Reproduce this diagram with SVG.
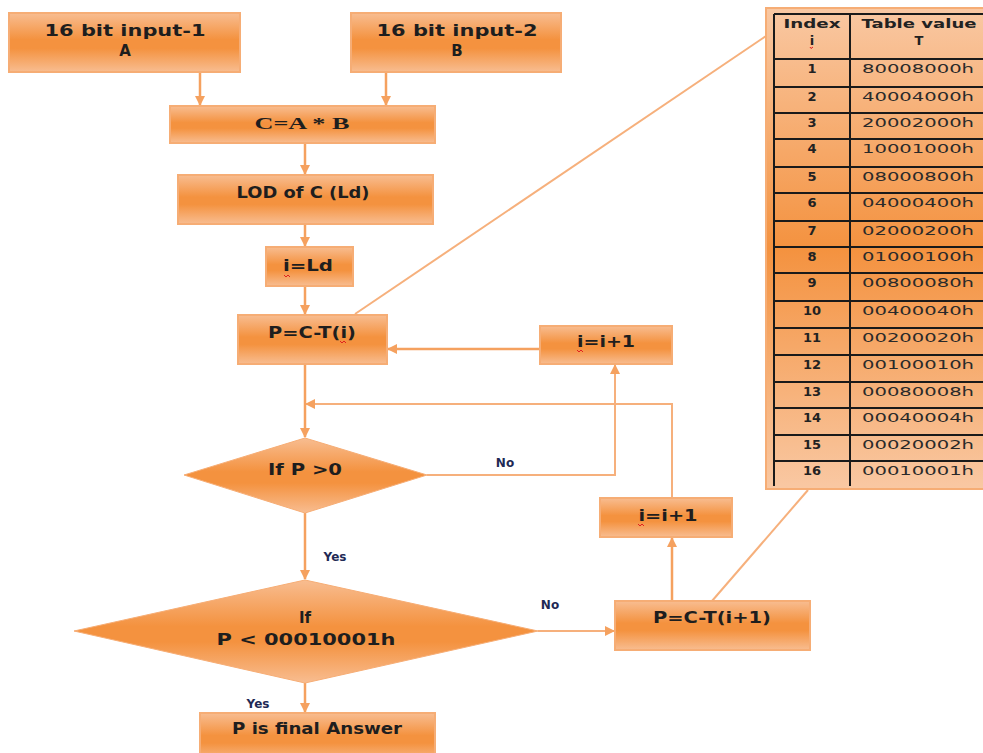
<svg xmlns="http://www.w3.org/2000/svg" width="983" height="753" viewBox="0 0 983 753">
<defs>
<linearGradient id="g" x1="0" y1="0" x2="0" y2="1">
<stop offset="0" stop-color="#f8bd91"/>
<stop offset="0.45" stop-color="#f4923f"/>
<stop offset="0.6" stop-color="#f4923f"/>
<stop offset="1" stop-color="#f8bd91"/>
</linearGradient>
<linearGradient id="gt" x1="0" y1="0" x2="0" y2="1">
<stop offset="0" stop-color="#f9c8a3"/>
<stop offset="0.5" stop-color="#f4923f"/>
<stop offset="1" stop-color="#f9c8a3"/>
</linearGradient>
<marker id="ah" viewBox="0 0 10 10" refX="9" refY="5" markerWidth="11" markerHeight="10" markerUnits="userSpaceOnUse" orient="auto">
<path d="M0,0 L10,5 L0,10 z" fill="#f5a15f"/>
</marker>
<style>
.box{fill:url(#g);stroke:#f6ad75;stroke-width:2}
.t{font-family:"DejaVu Sans",Verdana,sans-serif;font-weight:bold;font-size:15px;fill:#1e1e1e;text-anchor:middle}
.s{font-family:"DejaVu Sans",Verdana,sans-serif;font-weight:bold;font-size:12px;fill:#1f2a55}
.c{fill:none;stroke:#f5a15f;stroke-width:2.5}
.cl{fill:none;stroke:#f6b07c;stroke-width:2}
.grid{stroke:#1a1a1a;stroke-width:2}
.ti{font-family:"DejaVu Sans",Verdana,sans-serif;font-weight:bold;font-size:13px;fill:#222;text-anchor:middle}
.tv{font-family:"DejaVu Sans",Verdana,sans-serif;font-size:13px;fill:#2a2a2a}
.sq{fill:none;stroke:#e02020;stroke-width:1}
</style>
</defs>

<g id="connectors">
<path class="c" d="M200,72 V105" marker-end="url(#ah)"/>
<path class="c" d="M386,72 V105" marker-end="url(#ah)"/>
<path class="c" d="M305,143 V174" marker-end="url(#ah)"/>
<path class="c" d="M305,224 V246" marker-end="url(#ah)"/>
<path class="c" d="M305,286 V314" marker-end="url(#ah)"/>
<path class="c" d="M540,349 H388" marker-end="url(#ah)"/>
<path class="c" d="M305,364 V437" marker-end="url(#ah)"/>
<path class="cl" d="M672,498 V404 H306" marker-end="url(#ah)"/>
<path class="cl" d="M427,475 H615 V365" marker-end="url(#ah)"/>
<path class="c" d="M305,513 V579" marker-end="url(#ah)"/>
<path class="cl" d="M538,631 H614" marker-end="url(#ah)"/>
<path class="c" d="M672,601 V538" marker-end="url(#ah)"/>
<path class="c" d="M305,683 V712" marker-end="url(#ah)"/>
<path class="cl" d="M355,314 L766,36"/>
<path class="cl" d="M712,601 L808,490"/>
<text class="s" x="505" y="467" text-anchor="middle">No</text>
<text class="s" x="335" y="561" text-anchor="middle">Yes</text>
<text class="s" x="550" y="609" text-anchor="middle">No</text>
<text class="s" x="258" y="708" text-anchor="middle">Yes</text>
</g>

<g id="inputA">
<rect class="box" x="9" y="13" width="231" height="59"/>
<text class="t" x="125" y="36" textLength="161" lengthAdjust="spacingAndGlyphs">16 bit input-1</text>
<text class="t" x="125" y="56">A</text>
</g>
<g id="inputB">
<rect class="box" x="351" y="13" width="210" height="59"/>
<text class="t" x="457" y="36" textLength="161" lengthAdjust="spacingAndGlyphs">16 bit input-2</text>
<text class="t" x="457" y="56">B</text>
</g>
<g id="mult">
<rect class="box" x="170" y="106" width="265" height="37"/>
<text x="302" y="129" text-anchor="middle" font-family="Liberation Serif, serif" font-weight="bold" font-size="17" fill="#1e1e1e" textLength="95" lengthAdjust="spacingAndGlyphs">C=A * B</text>
</g>
<g id="lod">
<rect class="box" x="178" y="175" width="255" height="49"/>
<text class="t" x="303" y="198" font-size="14" textLength="133" lengthAdjust="spacingAndGlyphs">LOD of  C (Ld)</text>
</g>
<g id="iLd">
<rect class="box" x="266" y="247" width="87" height="39"/>
<text class="t" x="308" y="271" textLength="50" lengthAdjust="spacingAndGlyphs">i=Ld</text>
<path class="sq" d="M284,275 l2,2 l2,-2 l2,2"/>
</g>
<g id="pcti">
<rect class="box" x="238" y="315" width="149" height="49"/>
<text class="t" x="312" y="338" textLength="88" lengthAdjust="spacingAndGlyphs">P=C-T(i)</text>
<path class="sq" d="M340,341 l2,2 l2,-2 l2,2"/>
</g>
<g id="inc1">
<rect class="box" x="540" y="326" width="132" height="38"/>
<text class="t" x="606" y="347" textLength="58" lengthAdjust="spacingAndGlyphs">i=i+1</text>
<path class="sq" d="M577,350 l2,2 l2,-2 l2,2"/>
</g>
<g id="dec1">
<polygon points="305,438 427,475 305,513 184,475" fill="url(#g)" stroke="#f6ad75" stroke-width="1"/>
<text class="t" x="305" y="475" textLength="74" lengthAdjust="spacingAndGlyphs">If  P &gt;0</text>
</g>
<g id="inc2">
<rect class="box" x="600" y="498" width="132" height="39"/>
<text class="t" x="668" y="521" textLength="59" lengthAdjust="spacingAndGlyphs">i=i+1</text>
<path class="sq" d="M638,524 l2,2 l2,-2 l2,2"/>
</g>
<g id="dec2">
<polygon points="305,580 538,631 305,683 74,631" fill="url(#g)" stroke="#f6ad75" stroke-width="1"/>
<text class="t" x="305" y="623">If</text>
<text class="t" x="306" y="645" textLength="179" lengthAdjust="spacingAndGlyphs">P &lt; 00010001h</text>
</g>
<g id="pcti1">
<rect class="box" x="615" y="601" width="195" height="49"/>
<text class="t" x="712" y="623" textLength="118" lengthAdjust="spacingAndGlyphs">P=C-T(i+1)</text>
</g>
<g id="final">
<rect class="box" x="200" y="713" width="235" height="50"/>
<text class="t" x="317" y="734" font-size="15" textLength="170" lengthAdjust="spacingAndGlyphs">P is final  Answer</text>
</g>

<g id="table">
<rect x="766" y="8" width="230" height="481" fill="url(#gt)" stroke="#f6ad75" stroke-width="2"/>
<g class="grid">
<line x1="774" y1="14" x2="774" y2="486"/>
<line x1="850" y1="14" x2="850" y2="486"/>
<line x1="774" y1="14" x2="983" y2="14"/>
<line x1="774" y1="59" x2="983" y2="59"/>
<line x1="774" y1="87" x2="983" y2="87"/>
<line x1="774" y1="113" x2="983" y2="113"/>
<line x1="774" y1="139" x2="983" y2="139"/>
<line x1="774" y1="167" x2="983" y2="167"/>
<line x1="774" y1="193" x2="983" y2="193"/>
<line x1="774" y1="221" x2="983" y2="221"/>
<line x1="774" y1="247" x2="983" y2="247"/>
<line x1="774" y1="273" x2="983" y2="273"/>
<line x1="774" y1="301" x2="983" y2="301"/>
<line x1="774" y1="328" x2="983" y2="328"/>
<line x1="774" y1="355" x2="983" y2="355"/>
<line x1="774" y1="382" x2="983" y2="382"/>
<line x1="774" y1="408" x2="983" y2="408"/>
<line x1="774" y1="435" x2="983" y2="435"/>
<line x1="774" y1="461" x2="983" y2="461"/>
</g>
<text class="ti" x="812" y="28" textLength="57" lengthAdjust="spacingAndGlyphs">Index</text>
<text class="ti" x="812" y="45">i</text>
<path class="sq" d="M810,47 l1,1.5 l2,-1.5"/>
<text class="ti" x="919" y="28" textLength="115" lengthAdjust="spacingAndGlyphs">Table value</text>
<text class="ti" x="919" y="45">T</text>
<g class="ti">
<text x="812" y="73">1</text>
<text x="812" y="101">2</text>
<text x="812" y="127">3</text>
<text x="812" y="153">4</text>
<text x="812" y="181">5</text>
<text x="812" y="207">6</text>
<text x="812" y="235">7</text>
<text x="812" y="261">8</text>
<text x="812" y="287">9</text>
<text x="812" y="315">10</text>
<text x="812" y="342">11</text>
<text x="812" y="369">12</text>
<text x="812" y="396">13</text>
<text x="812" y="422">14</text>
<text x="812" y="449">15</text>
<text x="812" y="475">16</text>
</g>
<g class="tv">
<text x="862" y="73" textLength="112" lengthAdjust="spacingAndGlyphs">80008000h</text>
<text x="862" y="101" textLength="112" lengthAdjust="spacingAndGlyphs">40004000h</text>
<text x="862" y="127" textLength="112" lengthAdjust="spacingAndGlyphs">20002000h</text>
<text x="862" y="153" textLength="112" lengthAdjust="spacingAndGlyphs">10001000h</text>
<text x="862" y="181" textLength="112" lengthAdjust="spacingAndGlyphs">08000800h</text>
<text x="862" y="207" textLength="112" lengthAdjust="spacingAndGlyphs">04000400h</text>
<text x="862" y="235" textLength="112" lengthAdjust="spacingAndGlyphs">02000200h</text>
<text x="862" y="261" textLength="112" lengthAdjust="spacingAndGlyphs">01000100h</text>
<text x="862" y="287" textLength="112" lengthAdjust="spacingAndGlyphs">00800080h</text>
<text x="862" y="315" textLength="112" lengthAdjust="spacingAndGlyphs">00400040h</text>
<text x="862" y="342" textLength="112" lengthAdjust="spacingAndGlyphs">00200020h</text>
<text x="862" y="369" textLength="112" lengthAdjust="spacingAndGlyphs">00100010h</text>
<text x="862" y="396" textLength="112" lengthAdjust="spacingAndGlyphs">00080008h</text>
<text x="862" y="422" textLength="112" lengthAdjust="spacingAndGlyphs">00040004h</text>
<text x="862" y="449" textLength="112" lengthAdjust="spacingAndGlyphs">00020002h</text>
<text x="862" y="475" textLength="112" lengthAdjust="spacingAndGlyphs">00010001h</text>
</g>
</g>
</svg>
